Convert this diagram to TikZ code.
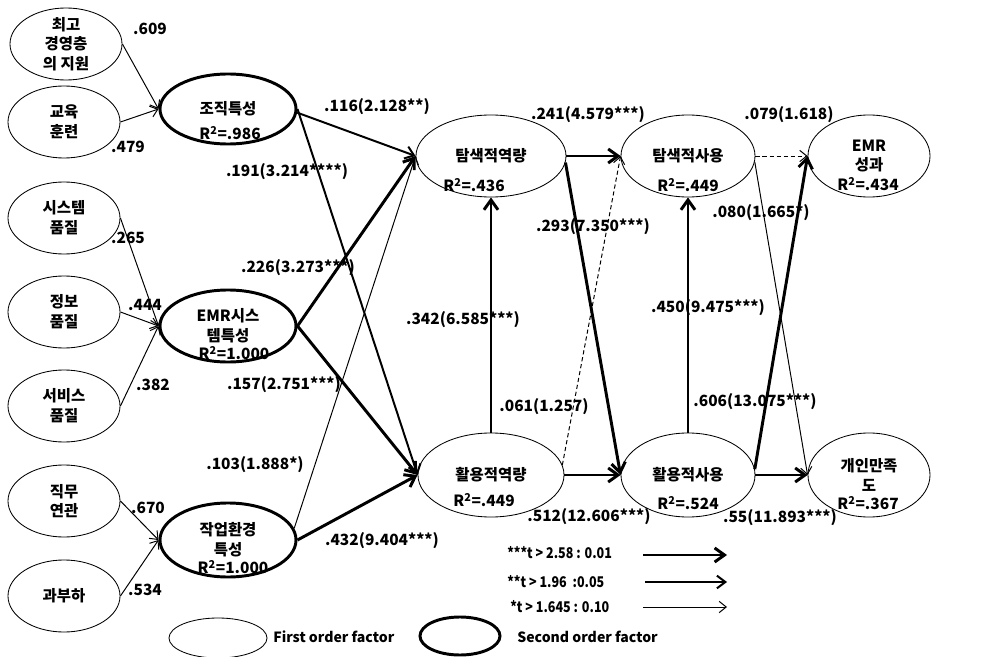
\documentclass[tikz,border=0pt]{standalone}
\usepackage{fontspec}
\setmainfont{Noto Sans CJK KR}
\newfontfamily\keyfont{Noto Sans CJK KR}[FakeStretch=0.85]
\usetikzlibrary{shapes.geometric,arrows.meta}

\begin{document}
\begin{tikzpicture}[
  x=0.025cm, y=-0.025cm,
  font=\fontsize{11}{14}\selectfont\bfseries,
  fo/.style={ellipse, draw, line width=0.6pt, inner sep=0pt, align=center,
             minimum width=2.8cm, minimum height=1.8cm},
  so/.style={ellipse, draw, line width=2.1pt, inner sep=0pt, align=center,
             minimum width=3.4cm, minimum height=1.75cm},
  lat/.style={ellipse, draw, line width=0.6pt, inner sep=0pt, align=center},
  rsq/.style={inner sep=0pt},
  lbl/.style={inner sep=0pt},
  key/.style={inner sep=0pt, anchor=west, font=\keyfont\fontsize{10.5}{12}\selectfont\bfseries},
  p1/.style={line width=0.7pt, -{Straight Barb[length=5pt,width=8pt]}},
  p2/.style={line width=1.4pt, -{Straight Barb[length=6pt,width=9pt]}},
  p3/.style={line width=2.1pt, -{Straight Barb[length=7pt,width=10pt]}},
  ns/.style={p1, dash pattern=on 3pt off 2pt},
]
\useasboundingbox (0,0) rectangle (1002,657);

% first order factors
\node[fo, inner ysep=-3pt] (top) at (66,44) {최고\\경영층\\의 지원};
\node[fo] (edu) at (64,122) {교육\\훈련};
\node[fo] (sys) at (64,218) {시스템\\품질};
\node[fo] (info) at (64,312) {정보\\품질};
\node[fo] (serv) at (64,406) {서비스\\품질};
\node[fo] (job) at (64,501) {직무\\연관};
\node[fo] (load) at (64,596) {과부하};

% second order factors
\node[so] (org) at (228,109) {조직특성};
\node[rsq] (org-r) at (230,133) {R\textsuperscript{2}=.986};
\node[so, minimum height=1.8cm] (emr) at (228,326) {EMR시스\\템특성};
\node[rsq] (emr-r) at (234,353) {R\textsuperscript{2}=1.000};
\node[so, minimum height=1.85cm] (env) at (228,540) {작업환경\\특성};
\node[rsq] (env-r) at (233,567) {R\textsuperscript{2}=1.000};

% capability, use and outcome
\node[lat, minimum width=3.75cm, minimum height=2.05cm] (xcap) at (491,156) {탐색적역량};
\node[rsq] (xcap-r) at (474,185) {R\textsuperscript{2}=.436};
\node[lat, minimum width=3.65cm, minimum height=2.1cm] (ucap) at (491,475) {활용적역량};
\node[rsq] (ucap-r) at (484,500) {R\textsuperscript{2}=.449};
\node[lat, minimum width=3.35cm, minimum height=2.05cm] (xuse) at (688,156) {탐색적사용};
\node[rsq] (xuse-r) at (688,185) {R\textsuperscript{2}=.449};
\node[lat, minimum width=3.35cm, minimum height=2.1cm] (uuse) at (688,475) {활용적사용};
\node[rsq] (uuse-r) at (688,503) {R\textsuperscript{2}=.524};
\node[lat, minimum width=3.05cm, minimum height=2.05cm] (perf) at (869,156) {EMR\\성과};
\node[rsq] (perf-r) at (868,184) {R\textsuperscript{2}=.434};
\node[lat, minimum width=3.05cm, minimum height=2.1cm] (sat) at (869,475) {개인만족\\도};
\node[rsq] (sat-r) at (868,503) {R\textsuperscript{2}=.367};

% loadings
\draw[p1] (top.east) -- (org.west);
\draw[p1] (edu.east) -- (org.west);
\draw[p1] (sys.east) -- (emr.west);
\draw[p1] (info.east) -- (emr.west);
\draw[p1] (serv.east) -- (emr.west);
\draw[p1] (job.east) -- (env.west);
\draw[p1] (load.east) -- (env.west);

% paths
\draw[p2] (org.-3) -- (xcap.west);
\draw[p2] (org.east) -- (ucap.west);
\draw[p3] (emr.east) -- (xcap.west);
\draw[p3] (emr.east) -- (ucap.west);
\draw[p1] (env.10) -- (xcap.west);
\draw[p3] (env.east) -- (ucap.west);
\draw[p3] (xcap.east) -- (xuse.west);
\draw[p3] (xcap.-5) -- (uuse.west);
\draw[p3] (ucap.north) -- (xcap.south);
\draw[p3] (ucap.east) -- (uuse.west);
\draw[ns] (ucap.8) -- (xuse.west);
\draw[p3] (uuse.north) -- (xuse.south);
\draw[ns] (xuse.east) -- (perf.west);
\draw[p1] (xuse.-5) -- (sat.west);
\draw[p3] (uuse.5) -- (perf.west);
\draw[p3] (uuse.east) -- (sat.west);

% coefficients
\node[lbl] (w-top) at (150,29) {.609};
\node[lbl] (w-edu) at (128,147) {.479};
\node[lbl] (w-sys) at (128,238) {.265};
\node[lbl] (w-info) at (145,305) {.444};
\node[lbl] (w-serv) at (153,385) {.382};
\node[lbl] (w-job) at (148,508) {.670};
\node[lbl] (w-load) at (145,590) {.534};
\node[lbl] (b-org-x) at (377,107) {.116(2.128**)};
\node[lbl] (b-org-u) at (287,172) {.191(3.214****)};
\node[lbl] (b-emr-x) at (298,268) {.226(3.273***)};
\node[lbl] (b-emr-u) at (284,385) {.157(2.751***)};
\node[lbl] (b-env-x) at (255,465) {.103(1.888*)};
\node[lbl] (b-env-u) at (382,541) {.432(9.404***)};
\node[lbl] (b-xcap-x) at (588,115) {.241(4.579***)};
\node[lbl] (b-xuse-p) at (789,115) {.079(1.618)};
\node[lbl] (b-xcap-u) at (593,227) {.293(7.350***)};
\node[lbl] (b-xuse-s) at (761,213) {.080(1.665*)};
\node[lbl] (b-ucap-x) at (463,320) {.342(6.585***)};
\node[lbl] (b-uuse-x) at (708,308) {.450(9.475***)};
\node[lbl] (b-ucap-xu) at (544,407) {.061(1.257)};
\node[lbl] (b-uuse-p) at (755,402) {.606(13.075***)};
\node[lbl] (b-ucap-u) at (589,517) {.512(12.606***)};
\node[lbl] (b-uuse-s) at (780,518) {.55(11.893***)};

% legend
\node[key] (k3) at (507,553) {***t > 2.58 : 0.01};
\node[key] (k2) at (507,582) {**t > 1.96~~:0.05};
\node[key] (k1) at (510,607) {*t > 1.645 : 0.10};
\coordinate (k3a) at (643,555); \coordinate (k3b) at (727,555);
\coordinate (k2a) at (645,582); \coordinate (k2b) at (727,582);
\coordinate (k1a) at (643,607); \coordinate (k1b) at (727,607);
\draw[p3] (k3a) -- (k3b);
\draw[p2] (k2a) -- (k2b);
\draw[p1] (k1a) -- (k1b);
\node[lat, minimum width=2.45cm, minimum height=1cm] (leg-fo) at (218,638) {};
\node[key, font=\fontsize{10}{12}\selectfont\bfseries] (leg-fo-t) at (273,637) {First order factor};
\node[so, minimum width=2cm, minimum height=0.95cm] (leg-so) at (460,636) {};
\node[key, font=\fontsize{10}{12}\selectfont\bfseries] (leg-so-t) at (517,637) {Second order factor};

\end{tikzpicture}
\end{document}
